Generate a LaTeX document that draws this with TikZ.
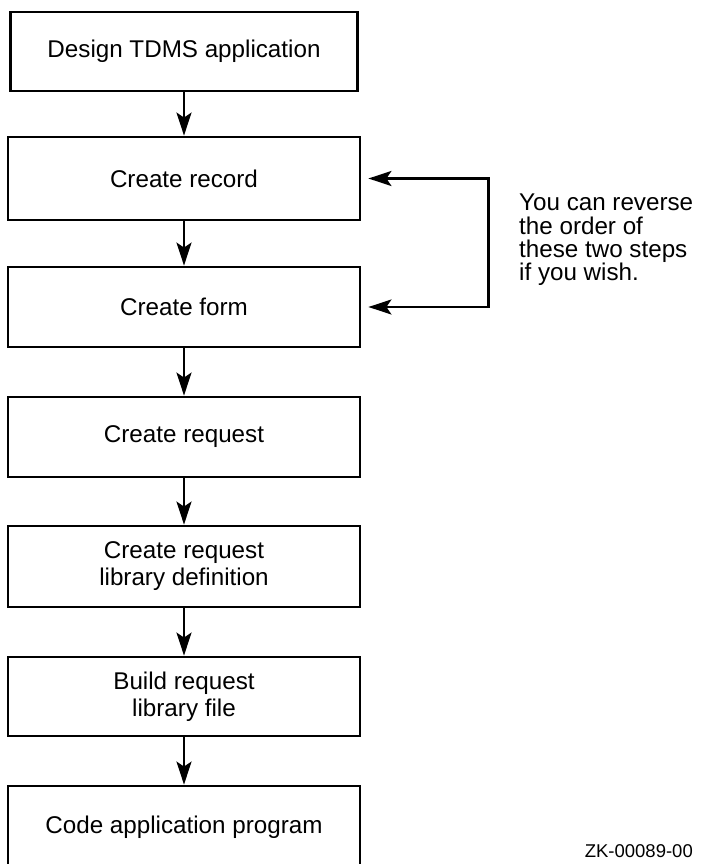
\documentclass[tikz,border=0pt]{standalone}
\usepackage{fontspec}
\setmainfont{Liberation Sans}
\usetikzlibrary{arrows.meta}
\begin{document}
\begin{tikzpicture}[x=1pt,y=-1pt,
  box/.style={draw, line width=2.8pt, minimum width=352pt, inner sep=0pt,
    font=\fontsize{24.2}{27}\selectfont, align=center},
  arr/.style={line width=2.6pt, -{Stealth[length=23pt,width=15pt,inset=5pt]}},
  dblarr/.style={line width=2.6pt, line join=miter,
    {Stealth[length=23pt,width=15pt,inset=5pt]}-{Stealth[length=23pt,width=15pt,inset=5pt]}},
  ]
\fill[white] (0,0) rectangle (702,864);
\useasboundingbox (0,0) rectangle (702,864);
\node[box, minimum width=347pt, minimum height=79pt] (b1) at (184,51.5) {Design TDMS application};
\node[box, minimum height=83pt] (b2) at (184,178.5) {Create record};
\node[box, minimum height=80pt] (b3) at (184,307) {Create form};
\node[box, minimum height=80pt] (b4) at (184,437) {Create request};
\node[box, minimum height=81pt] (b5) at (184,566.5) {Create request\\library definition};
\node[box, minimum height=79pt] (b6) at (184,696.5) {Build request\\library file};
\node[box, minimum height=82pt] (b7) at (184,827) {Code application program};
\draw[arr] (b1) -- (b2);
\draw[arr] (b2) -- (b3);
\draw[arr] (b3) -- (b4);
\draw[arr] (b4) -- (b5);
\draw[arr] (b5) -- (b6);
\draw[arr] (b6) -- (b7);
\draw[dblarr] ([xshift=7pt]b2.east) -- ++(120,0) |- ([xshift=7pt]b3.east);
\node[anchor=north west, inner sep=0pt, align=left,
  font=\fontsize{24.2}{23.3}\selectfont] (note) at (519,194)
  {You can reverse\\the order of\\these two steps\\if you wish.};
\node[anchor=base east, inner sep=0pt, font=\fontsize{18.5}{20}\selectfont] (zk) at (693,857) {ZK-00089-00};
\end{tikzpicture}
\end{document}
